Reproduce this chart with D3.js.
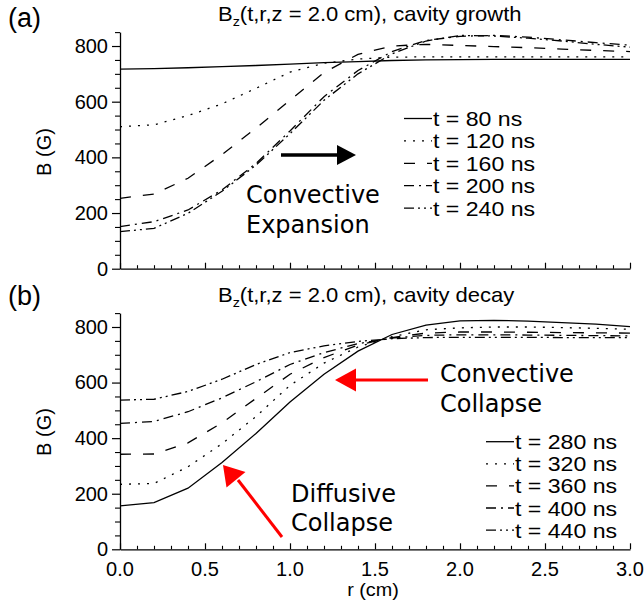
<!DOCTYPE html>
<html>
<head>
<meta charset="utf-8">
<script src="https://cdn.jsdelivr.net/npm/d3@7"></script>
<style>
  html, body { margin: 0; padding: 0; background: #fff; }
  svg { display: block; }
  text { font-family: "Liberation Sans", Arial, sans-serif; fill: #000; }
  .anno { font-family: "DejaVu Sans", Verdana, sans-serif; }
</style>
</head>
<body>
<svg id="chart" width="644" height="611"></svg>
<script>
// radial grid (cm)
const radius = [0, 0.2, 0.4, 0.6, 0.8, 1.0, 1.2, 1.4, 1.6, 1.8, 2.0, 2.2, 2.4, 2.6, 2.8, 3.0];

// (a) cavity growth, Bz in gauss
const growthTimes = ["80", "120", "160", "200", "240"];
const growth80  = [717, 719, 722, 726, 730, 735, 740, 744, 748, 750, 751, 752, 752, 752, 752, 752];
const growth120 = [510, 517, 550, 592, 648, 706, 738, 753, 760, 761, 761, 761, 761, 761, 761, 761];
const growth160 = [253, 268, 325, 410, 505, 605, 705, 770, 800, 806, 802, 798, 794, 789, 784, 780];
const growth200 = [151, 169, 211, 283, 378, 495, 618, 712, 780, 820, 835, 838, 832, 822, 812, 803];
const growth240 = [133, 145, 199, 278, 372, 485, 605, 700, 772, 818, 838, 836, 828, 818, 806, 796];

// (b) cavity decay, Bz in gauss
const decayTimes = ["280", "320", "360", "400", "440"];
const decay280 = [156, 168, 220, 312, 417, 530, 630, 713, 773, 807, 822, 824, 821, 816, 810, 801];
const decay320 = [234, 237, 297, 380, 478, 590, 670, 728, 765, 790, 797, 800, 800, 798, 795, 792];
const decay360 = [342, 343, 383, 455, 543, 630, 690, 735, 762, 778, 782, 782, 781, 780, 779, 778];
const decay400 = [453, 460, 495, 545, 603, 665, 708, 740, 760, 770, 772, 772, 771, 770, 769, 768];
const decay440 = [537, 540, 568, 612, 665, 708, 732, 748, 758, 762, 763, 763, 763, 762, 762, 762];

// axis ticks
const xTicks = [0, 0.5, 1.0, 1.5, 2.0, 2.5, 3.0];
const yTicks = [0, 200, 400, 600, 800];

// line styles, one per time slice (solid, dotted, dashed, dash-dot, dash-dot-dot)
const dashStyles = [null, "2,7", "11,12", "10,5,2,5", "10,4,2,4,2,4"];

// the lettering is set slightly wide
const WIDE = 1.1;

const svg = d3.select("#chart");

const x = d3.scaleLinear().domain([0, 3]).range([120, 630]);

function wideText(sel, px, py) {
  return sel.append("text").attr("transform", `translate(${px},${py}) scale(${WIDE},1)`);
}

function panel(opts) {
  const y = d3.scaleLinear().domain([0, 850]).range([opts.yBottom, opts.yTop]);
  const g = svg.append("g");

  // y axis: major and minor ticks pointing out
  const yAxis = d3.axisLeft(y).tickValues(yTicks).tickSize(8).tickSizeOuter(0).tickPadding(4)
    .tickFormat(d3.format("d"));
  const ya = g.append("g").attr("transform", `translate(${x(0)},0)`).call(yAxis);
  ya.select(".domain").attr("stroke", "#000").attr("stroke-width", 1.3);
  ya.selectAll(".tick line").attr("stroke-width", 1.2);
  ya.selectAll(".tick text").attr("font-size", 20).attr("font-family", "Liberation Sans, Arial, sans-serif");
  const yMinor = d3.range(0, 851, 50).filter(v => v % 200 !== 0);
  g.append("g").attr("transform", `translate(${x(0)},0)`)
    .call(d3.axisLeft(y).tickValues(yMinor).tickSize(5).tickFormat(""))
    .call(s => s.select(".domain").remove())
    .selectAll(".tick line").attr("stroke-width", 1.1);

  // x axis: ticks point up into the plot
  const xa = g.append("g").attr("transform", `translate(0,${y(0)})`)
    .call(d3.axisTop(x).tickValues(xTicks).tickSize(6).tickSizeOuter(0).tickFormat(""));
  xa.select(".domain").attr("stroke-width", 1.3);
  xa.selectAll(".tick line").attr("stroke-width", 1.2);
  const xMinor = d3.range(0, 31).map(i => i / 10).filter(v => Math.round(v * 10) % 5 !== 0);
  g.append("g").attr("transform", `translate(0,${y(0)})`)
    .call(d3.axisTop(x).tickValues(xMinor).tickSize(3.5).tickFormat(""))
    .call(s => s.select(".domain").remove())
    .selectAll(".tick line").attr("stroke-width", 1.1);

  if (opts.xLabels) {
    g.append("g").selectAll("text").data(xTicks).join("text")
      .attr("x", d => x(d)).attr("y", y(0) + 27)
      .attr("text-anchor", "middle").attr("font-size", 20)
      .text(d => d3.format(".1f")(d));
    wideText(g, 373, y(0) + 47).attr("text-anchor", "middle").attr("font-size", 18).text("r (cm)");
  }

  // y label
  g.append("text")
    .attr("transform", `translate(51,${opts.yLabelMid}) rotate(-90)`)
    .attr("text-anchor", "middle").attr("font-size", 20).text("B (G)");

  // panel letter and title
  g.append("text").attr("x", 8).attr("y", opts.letterY).attr("font-size", 27).text(opts.letter);
  const t = wideText(g, 218, opts.titleY).attr("font-size", 20);
  t.append("tspan").text("B");
  t.append("tspan").attr("dy", 5).attr("font-size", 13).text("z");
  t.append("tspan").attr("dy", -5).text(opts.title);

  // curves
  const line = d3.line().x((d, i) => x(radius[i])).y(d => y(d));
  g.append("g").selectAll("path").data(opts.series).join("path")
    .attr("d", d => line(d))
    .attr("fill", "none").attr("stroke", "#000").attr("stroke-width", 1.3)
    .attr("stroke-dasharray", (d, i) => dashStyles[i]);

  // legend
  const lg = g.append("g");
  opts.times.forEach((tm, i) => {
    const cy = opts.legendY + i * opts.legendStep;
    lg.append("line")
      .attr("x1", opts.legendX).attr("x2", opts.legendX + 28)
      .attr("y1", cy).attr("y2", cy)
      .attr("stroke", "#000").attr("stroke-width", 1.3)
      .attr("stroke-dasharray", dashStyles[i]);
    wideText(lg, opts.legendX + 29, cy + 7.5).attr("font-size", 21).text(`t = ${tm} ns`);
  });
  return y;
}

panel({
  yBottom: 268.7, yTop: 32.1, yLabelMid: 152, letter: "(a)", letterY: 27, titleY: 21,
  title: "(t,r,z = 2.0 cm), cavity growth",
  series: [growth80, growth120, growth160, growth200, growth240],
  times: growthTimes, legendX: 404, legendY: 118.5, legendStep: 22.4, xLabels: false
});

panel({
  yBottom: 549.3, yTop: 313.1, yLabelMid: 432, letter: "(b)", letterY: 305, titleY: 302,
  title: "(t,r,z = 2.0 cm), cavity decay",
  series: [decay280, decay320, decay360, decay400, decay440],
  times: decayTimes, legendX: 486, legendY: 441.7, legendStep: 22.1, xLabels: true
});

// annotations, panel (a)
svg.append("line").attr("x1", 281).attr("x2", 340).attr("y1", 155).attr("y2", 155)
  .attr("stroke", "#000").attr("stroke-width", 3.5);
svg.append("polygon").attr("points", "337,145 356,155 337,165").attr("fill", "#000");
const ea = svg.append("text").attr("class", "anno").attr("font-size", 24);
ea.append("tspan").attr("x", 246).attr("y", 203).text("Convective");
ea.append("tspan").attr("x", 246).attr("y", 233).text("Expansion");

// annotations, panel (b)
svg.append("line").attr("x1", 428).attr("x2", 352).attr("y1", 380).attr("y2", 380)
  .attr("stroke", "#f00").attr("stroke-width", 3);
svg.append("polygon").attr("points", "335,380 356,368.5 356,391.5").attr("fill", "#f00");
const cb = svg.append("text").attr("class", "anno").attr("font-size", 24);
cb.append("tspan").attr("x", 440).attr("y", 382).text("Convective");
cb.append("tspan").attr("x", 440).attr("y", 412).text("Collapse");

svg.append("line").attr("x1", 282).attr("x2", 238).attr("y1", 537).attr("y2", 480)
  .attr("stroke", "#f00").attr("stroke-width", 3);
svg.append("polygon").attr("points", "223,465 226.5,487.5 245.5,472").attr("fill", "#f00");
const db = svg.append("text").attr("class", "anno").attr("font-size", 24);
db.append("tspan").attr("x", 291).attr("y", 502).text("Diffusive");
db.append("tspan").attr("x", 291).attr("y", 531).text("Collapse");
</script>
</body>
</html>
